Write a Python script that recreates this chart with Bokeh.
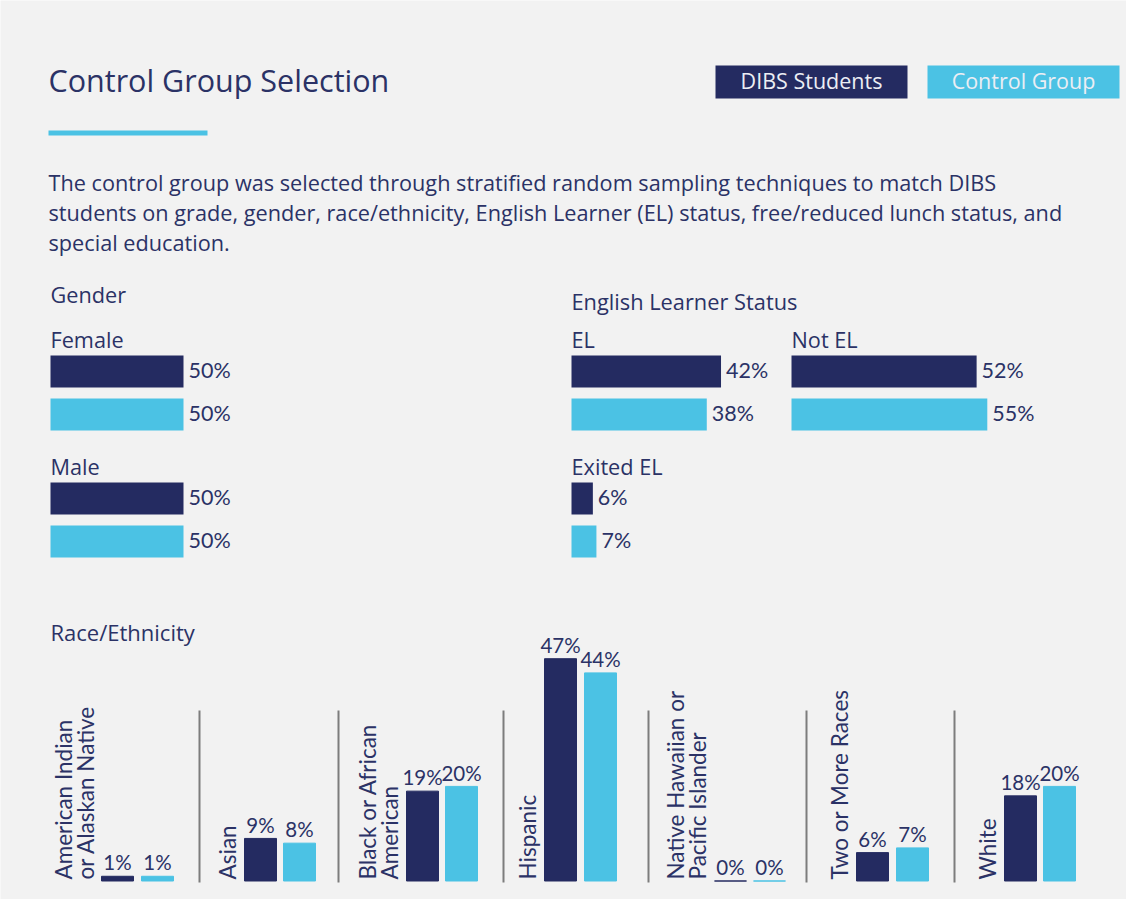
import math
from bokeh.plotting import figure
from bokeh.models import Range1d, ColumnDataSource
from bokeh.embed import file_html
from bokeh.resources import INLINE
from bokeh.core.properties import value

# ---------------- data ----------------
title_text = "Control Group Selection"
series_names = ["DIBS Students", "Control Group"]
description_lines = [
    "The control group was selected through stratified random sampling techniques to match DIBS",
    "students on grade, gender, race/ethnicity, English Learner (EL) status, free/reduced lunch status, and",
    "special education.",
]
gender_title = "Gender"
gender_categories = ["Female", "Male"]
gender_dibs = [50, 50]
gender_control = [50, 50]

el_title = "English Learner Status"
el_categories = ["EL", "Not EL", "Exited EL"]
el_dibs = [42, 52, 6]
el_control = [38, 55, 7]

race_title = "Race/Ethnicity"
race_labels = [
    ["American Indian", "or Alaskan Native"],
    ["Asian"],
    ["Black or African", "American"],
    ["Hispanic"],
    ["Native Hawaiian or", "Pacific Islander"],
    ["Two or More Races"],
    ["White"],
]
race_dibs = [1, 9, 19, 47, 0, 6, 18]
race_control = [1, 8, 20, 44, 0, 7, 20]

# ---------------- style / layout ----------------
BG = "#f2f2f2"
NAVY = "#242b61"
CYAN = "#4bc2e4"
TXT = "#2b3266"
DIV = "#7d7d7d"
F_MAIN = "Open Sans"
F_RACE = "Lato"
K = {"Open Sans": 0.43, "Lato": 0.43}   # baseline compensation (fraction of font size)
W, H = 1126, 899

p = figure(width=W, height=H, x_range=Range1d(0, W), y_range=Range1d(-H, 0),
           output_backend="svg", toolbar_location=None, min_border=0,
           x_axis_location=None, y_axis_location=None)
p.grid.visible = False
p.outline_line_color = None
p.background_fill_color = BG
p.border_fill_color = BG


def txt(x, y, s, size, color=TXT, align="left", font=F_MAIN, rotated=False):
    off = K[font] * size
    if rotated:
        ax, ay, ang = x - off, y, math.pi / 2
    else:
        ax, ay, ang = x, y - off, 0.0
    p.text(x=[ax], y=[-ay], text=[s], text_font=value(font), text_font_size=f"{size}px",
           text_color=color, text_align=align, text_baseline="alphabetic", angle=ang)


# title + underline
txt(48, 93, title_text, 30.5)
p.quad(left=[48], right=[207], top=[-130], bottom=[-135], fill_color=CYAN, line_color=None)

# legend
leg_x = [715, 927]
leg_w = 192
for i, (name, col) in enumerate(zip(series_names, [NAVY, CYAN])):
    p.quad(left=[leg_x[i]], right=[leg_x[i] + leg_w], top=[-65], bottom=[-98],
           fill_color=col, line_color=None)
    txt(leg_x[i] + leg_w / 2, 89.5, name, 21.5, color="#eceef4", align="center")

# description
for i, line in enumerate(description_lines):
    txt(48, 191 + 30 * i, line, 21.7)

# ---------- horizontal bar panels ----------
BAR_H = 32


def hpanel(x0, label_base, label, dv, cv, scale):
    txt(x0, label_base, label, 21.7)
    tops = [label_base + 7, label_base + 50]
    for top, v, col in zip(tops, [dv, cv], [NAVY, CYAN]):
        c = top + BAR_H / 2
        right = x0 + v * scale
        src = ColumnDataSource(dict(y=[-c], left=[x0], right=[right]))
        p.hbar(y="y", left="left", right="right", height=BAR_H, source=src,
               fill_color=col, line_color=None)
        txt(right + 5, c + 8, f"{v}%", 21.5, font=F_RACE)


# gender
txt(50, 303, gender_title, 21.7)
G_SCALE = 2.66
for i, cat in enumerate(gender_categories):
    hpanel(50, 348 + 127 * i, cat, gender_dibs[i], gender_control[i], G_SCALE)

# english learner
txt(571, 310, el_title, 21.8)
E_SCALE = 3.56
el_pos = [(571, 348), (791, 348), (571, 475)]
for i, cat in enumerate(el_categories):
    hpanel(el_pos[i][0], el_pos[i][1], cat, el_dibs[i], el_control[i], E_SCALE)

# ---------- race / ethnicity ----------
txt(50, 641, race_title, 22)
R_BASE = 880.5
R_SCALE = 4.73
R_W = 32
label_baselines = [[73, 95], [237], [377, 399], [537], [685, 707], [849], [997]]
dibs_left = [101, 244, 406, 544, 714, 856, 1004]
ctrl_left = [141, 283, 445, 584, 753, 896, 1043]
dividers = [199, 338, 503, 648, 806, 954]

for xd in dividers:
    p.segment(x0=[xd], y0=[-710], x1=[xd], y1=[-882], line_color=DIV, line_width=2)

for i, lines in enumerate(race_labels):
    for ln, bx in zip(lines, label_baselines[i]):
        txt(bx, 879, ln, 22.5, font=F_RACE, rotated=True)
    for left, v, col in [(dibs_left[i], race_dibs[i], NAVY), (ctrl_left[i], race_control[i], CYAN)]:
        top = R_BASE - v * R_SCALE
        src = ColumnDataSource(dict(x=[left + R_W / 2], top=[-top], bottom=[-R_BASE]))
        p.vbar(x="x", top="top", bottom="bottom", width=R_W, source=src,
               fill_color=col, line_color=col, line_width=1)
        txt(left + R_W / 2, top - 5, f"{v}%", 20.5, align="center", font=F_RACE)

open("out.html", "w").write(file_html(p, INLINE))
